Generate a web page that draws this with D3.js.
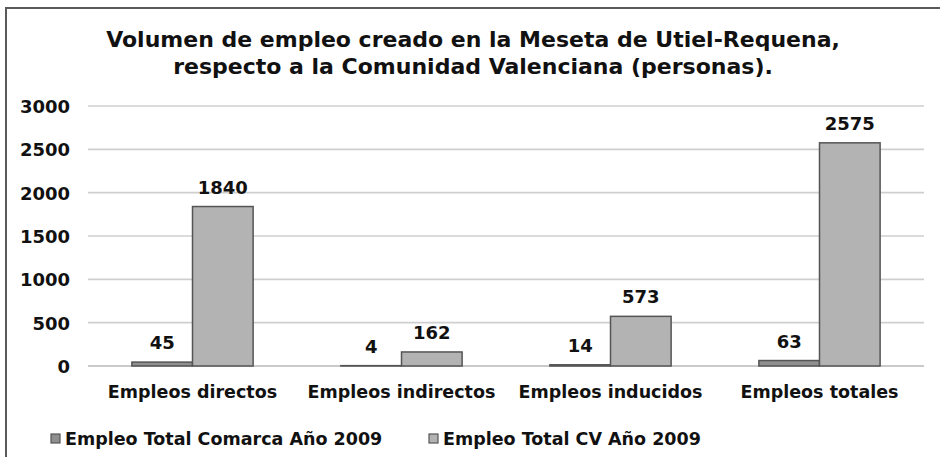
<!DOCTYPE html>
<html>
<head>
<meta charset="utf-8">
<script src="https://cdn.jsdelivr.net/npm/d3@7"></script>
<style>
  body { margin: 0; background: #fff; }
  svg text { font-family: "DejaVu Sans", Verdana, sans-serif; font-weight: bold; fill: #111; }
</style>
</head>
<body>
<div id="chart"></div>
<script>
// chart data
var categories = ["Empleos directos", "Empleos indirectos", "Empleos inducidos", "Empleos totales"];
var seriesNames = ["Empleo Total Comarca Año 2009", "Empleo Total CV Año 2009"];
var comarcaValues = [45, 4, 14, 63];
var cvValues = [1840, 162, 573, 2575];
var yTicks = [0, 500, 1000, 1500, 2000, 2500, 3000];
var titleLines = ["Volumen de empleo creado en la Meseta de Utiel-Requena,",
                  "respecto a la Comunidad Valenciana (personas)."];

// init size
var width = 940;
var height = 457;
var plotLeft = 88;
var plotRight = 924;
var plotTop = 106;
var plotBottom = 366;
var seriesColors = ["#8f8f8f", "#b3b3b3"];

var svg = d3.select("#chart")
    .append("svg")
    .attr("width", width)
    .attr("height", height);

// frame
svg.append("rect")
    .attr("x", 6)
    .attr("y", 8)
    .attr("width", width)
    .attr("height", height)
    .attr("fill", "none")
    .attr("stroke", "#5a5a5a")
    .attr("stroke-width", 2);

// title
svg.append("g")
    .attr("class", "title")
    .selectAll("text")
    .data(titleLines)
    .enter().append("text")
    .attr("x", 473)
    .attr("y", (d, i) => 47 + i*26.5)
    .attr("text-anchor", "middle")
    .attr("font-size", 22)
    .text(d => d);

// scales
var x0 = d3.scaleBand()
    .domain(categories)
    .range([plotLeft, plotRight])
    .paddingInner(0.42)
    .paddingOuter(0.21);

var x1 = d3.scaleBand()
    .domain([0, 1])
    .range([0, x0.bandwidth()]);

var y = d3.scaleLinear()
    .domain([0, 3000])
    .range([plotBottom, plotTop]);

// gridlines
svg.append("g")
    .attr("class", "grid")
    .selectAll("line")
    .data(yTicks)
    .enter().append("line")
    .attr("x1", plotLeft)
    .attr("x2", plotRight)
    .attr("y1", d => y(d))
    .attr("y2", d => y(d))
    .attr("stroke", d => d == 0 ? "#b8b8b8" : "#cfcfcf")
    .attr("stroke-width", 1.6);

// y axis labels
var yAxis = svg.append("g")
    .attr("transform", "translate(" + 70 + ",0)")
    .call(d3.axisLeft(y).tickValues(yTicks).tickFormat(d3.format("d")).tickSize(0).tickPadding(0));
yAxis.select(".domain").remove();
yAxis.selectAll("text")
    .attr("font-size", 18)
    .attr("dy", "0.36em")
    .style("font-family", "'DejaVu Sans', Verdana, sans-serif")
    .style("font-weight", "bold")
    .attr("fill", "#111");

// bars
var rows = categories.map((c, i) => ({ category: c, values: [comarcaValues[i], cvValues[i]] }));

var group = svg.append("g")
    .attr("class", "bars")
    .selectAll("g")
    .data(rows)
    .enter().append("g")
    .attr("transform", d => "translate(" + x0(d.category) + ",0)");

group.selectAll("rect")
    .data(d => d.values.map((v, s) => ({ series: s, value: v })))
    .enter().append("rect")
    .attr("x", d => x1(d.series))
    .attr("y", d => y(d.value))
    .attr("width", x1.bandwidth())
    .attr("height", d => plotBottom - y(d.value))
    .attr("fill", d => seriesColors[d.series])
    .attr("stroke", "#555")
    .attr("stroke-width", 1.5);

// value labels
group.selectAll("text")
    .data(d => d.values.map((v, s) => ({ series: s, value: v })))
    .enter().append("text")
    .attr("x", d => x1(d.series) + x1.bandwidth()/2)
    .attr("y", d => y(d.value) - 13)
    .attr("text-anchor", "middle")
    .attr("font-size", 18)
    .text(d => d.value);

// category labels
svg.append("g")
    .attr("class", "categories")
    .selectAll("text")
    .data(categories)
    .enter().append("text")
    .attr("x", d => x0(d) + x0.bandwidth()/2)
    .attr("y", 398)
    .attr("text-anchor", "middle")
    .attr("font-size", 17.5)
    .text(d => d);

// legend
var legendX = [50, 428];
var legend = svg.append("g")
    .attr("class", "legend")
    .selectAll("g")
    .data(seriesNames)
    .enter().append("g")
    .attr("transform", (d, i) => "translate(" + legendX[i] + ",433)");

legend.append("rect")
    .attr("width", 9)
    .attr("height", 9)
    .attr("x", 1)
    .attr("y", 1)
    .attr("fill", (d, i) => seriesColors[i])
    .attr("stroke", "#555")
    .attr("stroke-width", 1.2);

legend.append("text")
    .attr("x", 15)
    .attr("y", 12)
    .attr("font-size", 17.5)
    .text(d => d);
</script>
</body>
</html>
